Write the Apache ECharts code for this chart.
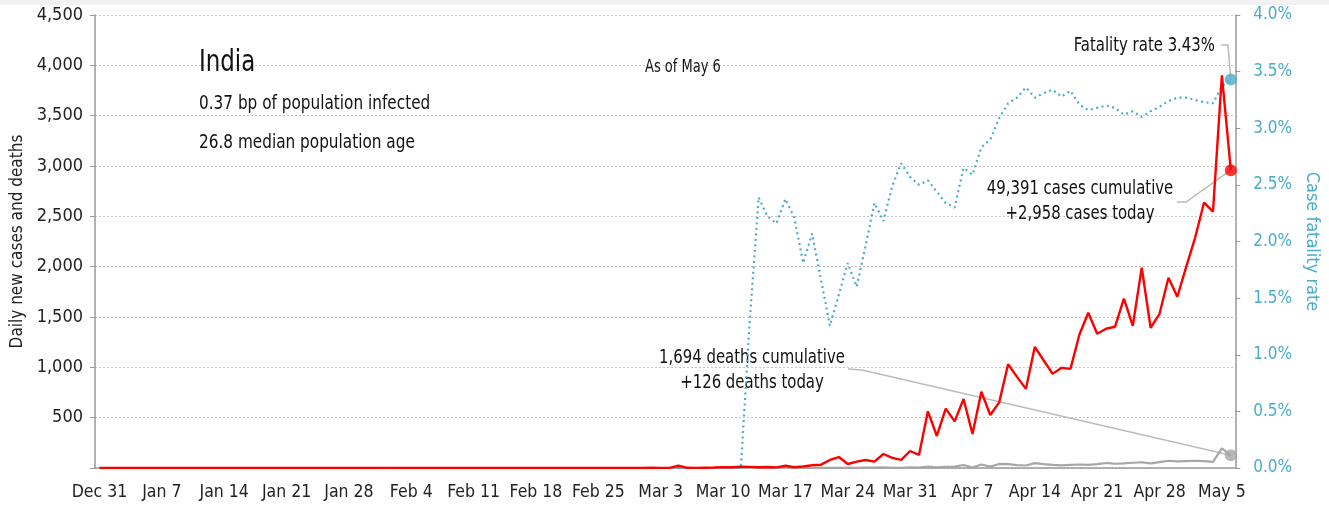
<!DOCTYPE html>
<html>
<head>
<meta charset="utf-8">
<title>India</title>
<script src="https://cdn.jsdelivr.net/npm/echarts/dist/echarts.min.js"></script>
<style>
  html, body { margin: 0; padding: 0; background: #fff; }
  #chart { width: 1329px; height: 510px; }
</style>
</head>
<body>
<div id="chart"></div>
<script>
// daily values, Dec 31 .. May 6 (128 days)
var startDate = Date.UTC(2019, 11, 31);
var dayCount = 128;
var monthNames = ["Jan", "Feb", "Mar", "Apr", "May", "Jun", "Jul", "Aug", "Sep", "Oct", "Nov", "Dec"];

var categories = [];
for (var i = 0; i < dayCount; i++) {
  var d = new Date(startDate + i * 86400000);
  categories.push(monthNames[d.getUTCMonth()] + " " + d.getUTCDate());
}

// daily new cases
var dailyCases = [
  0, 0, 0, 0, 0, 0, 0, 0, 0, 0, 0, 0, 0, 0, 0, 0, 0, 0, 0, 0,
  0, 0, 0, 0, 0, 0, 0, 0, 0, 0, 1, 0, 1, 1, 0, 0, 0, 0, 0, 0,
  0, 0, 0, 0, 0, 0, 0, 0, 0, 0, 0, 0, 0, 0, 0, 0, 0, 0, 0, 0,
  0, 0, 2, 1, 1, 22, 2, 1, 3, 5, 9, 7, 12, 11, 8, 10, 6, 22, 8, 15,
  27, 33, 80, 109, 40, 63, 80, 63, 139, 100, 80, 169, 129, 563, 318, 590, 463, 686, 338, 757,
  527, 652, 1030, 905, 786, 1204, 1068, 935, 995, 985, 1323, 1542, 1333, 1383, 1403, 1682, 1413, 1990, 1393, 1532,
  1890, 1701, 2000, 2289, 2637, 2547, 3900, 2958
];

// daily deaths
var dailyDeaths = [
  0, 0, 0, 0, 0, 0, 0, 0, 0, 0, 0, 0, 0, 0, 0, 0, 0, 0, 0, 0,
  0, 0, 0, 0, 0, 0, 0, 0, 0, 0, 0, 0, 0, 0, 0, 0, 0, 0, 0, 0,
  0, 0, 0, 0, 0, 0, 0, 0, 0, 0, 0, 0, 0, 0, 0, 0, 0, 0, 0, 0,
  0, 0, 0, 0, 0, 0, 0, 0, 0, 0, 0, 0, 1, 0, 1, 0, 0, 1, 0, 1,
  0, 2, 1, 2, 1, 1, 3, 4, 6, 2, 2, 7, 3, 15, 6, 12, 14, 30, 5, 35,
  14, 40, 38, 28, 25, 48, 38, 31, 27, 32, 35, 32, 38, 50, 42, 45, 52, 57, 46, 58,
  72, 65, 69, 72, 68, 60, 195, 126
];

// case fatality rate, percent
var fatalityRate = [
  0, 0, 0, 0, 0, 0, 0, 0, 0, 0, 0, 0, 0, 0, 0, 0, 0, 0, 0, 0,
  0, 0, 0, 0, 0, 0, 0, 0, 0, 0, 0, 0, 0, 0, 0, 0, 0, 0, 0, 0,
  0, 0, 0, 0, 0, 0, 0, 0, 0, 0, 0, 0, 0, 0, 0, 0, 0, 0, 0, 0,
  0, 0, 0, 0, 0, 0, 0, 0, 0, 0, 0, 0, 0, 1.3, 2.39, 2.22, 2.16, 2.375, 2.21, 1.81,
  2.07, 1.66, 1.255, 1.53, 1.81, 1.6, 1.96, 2.34, 2.18, 2.49, 2.69, 2.57, 2.5, 2.54, 2.44, 2.34, 2.3, 2.65, 2.59, 2.83,
  2.9, 3.09, 3.22, 3.27, 3.36, 3.27, 3.31, 3.34, 3.28, 3.33, 3.21, 3.16, 3.18, 3.2, 3.18, 3.12, 3.15, 3.1, 3.15, 3.19,
  3.24, 3.27, 3.27, 3.25, 3.23, 3.22, 3.37, 3.43
];

var leftTicks = [0, 500, 1000, 1500, 2000, 2500, 3000, 3500, 4000, 4500];

var FONT = "'Liberation Sans Narrow', 'DejaVu Sans Condensed', sans-serif";
var RED = "#ff0000";
var GREY = "#a6a6a6";
var BLUE = "#4aaccb";
var AXIS = "#999999";
var NARROW = 0.85; // squeeze for the annotation texts

var last = dayCount - 1;

var chart = echarts.init(document.getElementById("chart"));

var option = {
  animation: false,
  backgroundColor: "#ffffff",
  textStyle: { fontFamily: FONT },
  grid: { left: 95, right: 92, top: 15, bottom: 42 },
  xAxis: {
    type: "category",
    data: categories,
    boundaryGap: true,
    axisLine: { lineStyle: { color: AXIS, width: 1.5 } },
    axisTick: { interval: 6, length: 6, lineStyle: { color: AXIS, width: 1.5 } },
    axisLabel: { interval: 6, fontSize: 17.5, color: "#222", margin: 15, fontFamily: FONT },
    splitLine: { show: false },
  },
  yAxis: [
    {
      type: "value",
      min: leftTicks[0],
      max: leftTicks[leftTicks.length - 1],
      interval: 500,
      axisLine: { show: true, lineStyle: { color: AXIS, width: 1.5 } },
      axisTick: { show: true, length: 5, lineStyle: { color: AXIS } },
      axisLabel: {
        fontSize: 18,
        color: "#222",
        margin: 12,
        fontFamily: FONT,
        formatter: function (v) {
          return v === 0 ? "" : v.toLocaleString("en-US");
        },
      },
      splitLine: { show: true, lineStyle: { color: "#c4c4c4", type: [2, 2], width: 1 } },
      name: "Daily new cases and deaths",
      nameLocation: "middle",
      nameRotate: 90,
      nameGap: 64,
      nameTextStyle: { fontSize: 17, color: "#222", fontFamily: FONT },
    },
    {
      type: "value",
      position: "right",
      min: 0,
      max: 4,
      interval: 0.5,
      axisLine: { show: true, lineStyle: { color: AXIS, width: 1.5 } },
      axisTick: { show: true, length: 5, lineStyle: { color: AXIS } },
      axisLabel: {
        fontSize: 17,
        color: BLUE,
        margin: 18,
        fontFamily: FONT,
        formatter: function (v) {
          return v.toFixed(1) + "%";
        },
      },
      splitLine: { show: false },
      name: "Case fatality rate",
      nameLocation: "middle",
      nameRotate: -90,
      nameGap: 54,
      nameTextStyle: { fontSize: 18, color: BLUE, fontFamily: FONT },
    },
  ],
  series: [
    {
      name: "deaths",
      type: "line",
      data: dailyDeaths,
      showSymbol: false,
      lineStyle: { color: GREY, width: 2.2 },
      itemStyle: { color: GREY },
      z: 2,
    },
    {
      name: "cfr",
      type: "line",
      yAxisIndex: 1,
      data: fatalityRate,
      showSymbol: false,
      lineStyle: { color: BLUE, width: 2.2, type: [2, 3.5] },
      itemStyle: { color: BLUE },
      z: 3,
    },
    {
      name: "cases",
      type: "line",
      data: dailyCases,
      showSymbol: false,
      lineStyle: { color: RED, width: 2.4 },
      itemStyle: { color: RED },
      z: 4,
    },
    // end dots
    {
      type: "scatter",
      data: [[categories[last], dailyDeaths[last]]],
      symbolSize: 12,
      itemStyle: { color: GREY },
      z: 5,
    },
    {
      type: "scatter",
      yAxisIndex: 1,
      data: [[categories[last], fatalityRate[last]]],
      symbolSize: 12,
      itemStyle: { color: BLUE },
      z: 5,
    },
    {
      type: "scatter",
      data: [[categories[last], dailyCases[last]]],
      symbolSize: 12,
      itemStyle: { color: RED },
      z: 5,
    },
  ],
};

chart.setOption(option);

// leader lines end on the last points
var pCases = chart.convertToPixel({ seriesIndex: 2 }, [last, dailyCases[last]]);
var pDeaths = chart.convertToPixel({ seriesIndex: 0 }, [last, dailyDeaths[last]]);
var pRate = chart.convertToPixel({ seriesIndex: 1 }, [last, fatalityRate[last]]);

function txt(x, y, text, size, align) {
  return {
    type: "text",
    x: x,
    y: y,
    scaleX: NARROW,
    silent: true,
    style: {
      x: 0,
      y: 0,
      text: text,
      fontSize: size,
      fontFamily: FONT,
      fill: "#111",
      align: align || "left",
      verticalAlign: "middle",
    },
  };
}

function leader(points) {
  return {
    type: "polyline",
    silent: true,
    z: 1,
    shape: { points: points },
    style: { stroke: "#bbbbbb", lineWidth: 1.5, fill: null },
  };
}

chart.setOption({
  graphic: [
    { type: "rect", shape: { x: 0, y: 0, width: 1329, height: 5 }, style: { fill: "#f2f2f2" }, silent: true },
    txt(199, 63, "India", 30),
    txt(199, 104, "0.37 bp of population infected", 20),
    txt(199, 143, "26.8 median population age", 20),
    txt(645, 68, "As of May 6", 17),
    txt(1215, 46, "Fatality rate 3.43%", 19.5, "right"),
    txt(1080, 189, "49,391 cases cumulative", 19.5, "center"),
    txt(1080, 214, "+2,958 cases today", 19.5, "center"),
    txt(752, 358, "1,694 deaths cumulative", 19.5, "center"),
    txt(752, 383, "+126 deaths today", 19.5, "center"),
    leader([[1221, 45], [1228, 45], pRate]),
    leader([[1177, 202], [1186, 202], pCases]),
    leader([[848, 369], [862, 370], pDeaths]),
  ],
});
</script>
</body>
</html>
